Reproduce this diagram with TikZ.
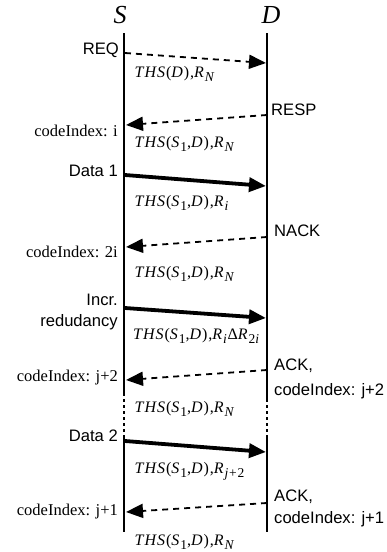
\documentclass[tikz,border=0pt]{standalone}
\usepackage{fontspec}
\setmainfont{Liberation Serif}
\newfontfamily\lsans{Liberation Sans}
\newfontfamily\thsfont{Liberation Serif}[LetterSpace=6]
\usetikzlibrary{arrows.meta}
\newcommand{\lowsub}[1]{\raisebox{-0.55ex}{\fontsize{13.5}{14}\selectfont #1}}
\newcommand{\thsA}[1]{\textit{THS}(\textit{S}\lowsub{1},\textit{D}),\textit{R}\lowsub{#1}}
\begin{document}
\begin{tikzpicture}[x=1pt,y=-1pt,
  life/.style={line width=1.7pt},
  lifedot/.style={line width=1.7pt, dash pattern=on 3pt off 3pt},
  tip/.style={-{Triangle[length=17pt,width=14pt]}},
  ctrl/.style={tip, line width=1.8pt, dash pattern=on 6pt off 5pt},
  datamsg/.style={tip, line width=3.8pt},
  sanslab/.style={font=\lsans\fontsize{16.6}{18}\selectfont, inner sep=0pt},
  seriflab/.style={font=\fontsize{16.5}{18}\selectfont, inner sep=0pt},
  thslab/.style={font=\thsfont\fontsize{16}{18}\selectfont, inner sep=0pt, anchor=base west},
  title/.style={font=\itshape\fontsize{26}{28}\selectfont, inner sep=0pt, anchor=base}
]
\useasboundingbox (0,0) rectangle (386,552);

% participants
\node[title] (S) at (120,23) {S};
\node[title] (D) at (271,23) {D};

% lifelines
\coordinate (sTop) at (124,33);
\coordinate (sA) at (124,393);
\coordinate (sB) at (124,435);
\coordinate (sBot) at (124,532);
\coordinate (dTop) at (267,33);
\coordinate (dA) at (267,399);
\coordinate (dB) at (267,437);
\coordinate (dBot) at (267,532);
\draw[life] (sTop) -- (sA);
\draw[lifedot] (sA) -- (sB);
\draw[life] (sB) -- (sBot);
\draw[life] (dTop) -- (dA);
\draw[lifedot] (dA) -- (dB);
\draw[life] (dB) -- (dBot);

% message endpoints
\coordinate (m1s) at (125,53);  \coordinate (m1e) at (266,63);
\coordinate (m2s) at (267,115); \coordinate (m2e) at (126,125);
\coordinate (m3s) at (125,175); \coordinate (m3e) at (266,186);
\coordinate (m4s) at (267,237); \coordinate (m4e) at (126,247);
\coordinate (m5s) at (125,308); \coordinate (m5e) at (266,318);
\coordinate (m6s) at (267,370); \coordinate (m6e) at (126,380);
\coordinate (m7s) at (125,441); \coordinate (m7e) at (266,452);
\coordinate (m8s) at (267,503); \coordinate (m8e) at (126,512);

\draw[ctrl] (m1s) -- (m1e);
\draw[ctrl] (m2s) -- (m2e);
\draw[datamsg] (m3s) -- (m3e);
\draw[ctrl] (m4s) -- (m4e);
\draw[datamsg] (m5s) -- (m5e);
\draw[ctrl] (m6s) -- (m6e);
\draw[datamsg] (m7s) -- (m7e);
\draw[ctrl] (m8s) -- (m8e);

% left labels
\node[sanslab, anchor=base east] (req) at (119,54) {REQ};
\node[seriflab, anchor=base east] (ci1) at (118,136.5) {codeIndex: i};
\node[sanslab, anchor=base east] (data1) at (118,176) {Data 1};
\node[seriflab, anchor=base east] (ci2) at (118,257) {codeIndex: 2i};
\node[sanslab, anchor=base east] (incr) at (118,305) {Incr.};
\node[sanslab, anchor=base east] (redu) at (118,326.5) {redudancy};
\node[seriflab, anchor=base east] (ci3) at (118,381.5) {codeIndex: j+2};
\node[sanslab, anchor=base east] (data2) at (118,441.5) {Data 2};
\node[seriflab, anchor=base east] (ci4) at (118,515) {codeIndex: j+1};

% right labels
\node[sanslab, anchor=base west] (resp) at (271,115) {RESP};
\node[sanslab, anchor=base west] (nack) at (274,236.5) {NACK};
\node[sanslab, anchor=base west] (ack1) at (274,370) {ACK,};
\node[sanslab, anchor=base west] (ack1b) at (274,395) {codeIndex: j+2};
\node[sanslab, anchor=base west] (ack2) at (274,501.5) {ACK,};
\node[sanslab, anchor=base west] (ack2b) at (274,523) {codeIndex: j+1};

% message contents
\node[thslab] (t1) at (134.5,77) {\textit{THS}(\textit{D}),\textit{R}\lowsub{\textit{N}}};
\node[thslab] (t2) at (134.5,147) {\thsA{\textit{N}}};
\node[thslab] (t3) at (134.5,206.5) {\thsA{\textit{i}}};
\node[thslab] (t4) at (134.5,277) {\thsA{\textit{N}}};
\node[thslab] (t5) at (133,339) {\thsA{\textit{i}}Δ\textit{R}\lowsub{2\textit{i}}};
\node[thslab] (t6) at (134.5,412) {\thsA{\textit{N}}};
\node[thslab] (t7) at (134.5,473) {\thsA{\textit{j}+2}};
\node[thslab] (t8) at (134.5,545) {\thsA{\textit{N}}};
\end{tikzpicture}
\end{document}
